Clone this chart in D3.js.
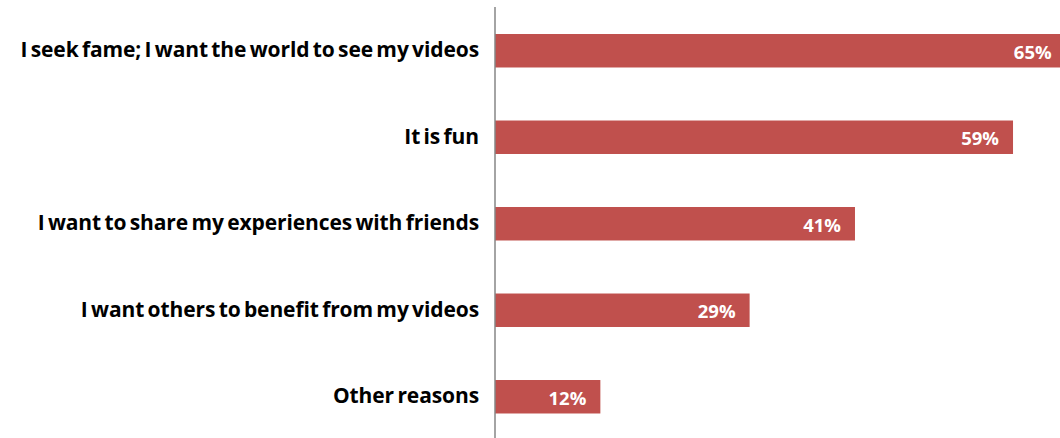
<!DOCTYPE html>
<html>
<head>
<meta charset="utf-8">
<script src="https://cdn.jsdelivr.net/npm/d3@7"></script>
<style>
  html, body { margin: 0; padding: 0; background: #fff; }
  svg { display: block; }
</style>
</head>
<body>
<svg id="chart" width="1060" height="438"></svg>
<script>
// Reasons for posting videos, share of respondents (%)
const reasons = [
  "I seek fame; I want the world to see my videos",
  "It is fun",
  "I want to share my experiences with friends",
  "I want others to benefit from my videos",
  "Other reasons"
];
const shares = [65, 59, 41, 29, 12];

const W = 1060, H = 438;
const axisX = 495;

const svg = d3.select("#chart");

const x = d3.scaleLinear()
  .domain([0, 10])
  .range([axisX, axisX + 87.8]);

const y = d3.scaleBand()
  .domain(reasons)
  .range([7.5, 440])
  .paddingInner(0.613)
  .paddingOuter(0.3065);

// bars
svg.append("g")
  .selectAll("rect")
  .data(reasons)
  .join("rect")
  .attr("x", x(0))
  .attr("y", d => y(d))
  .attr("width", (d, i) => x(shares[i]) - x(0))
  .attr("height", y.bandwidth())
  .attr("fill", "#C0504D");

// value labels inside bar ends
svg.append("g")
  .selectAll("text")
  .data(reasons)
  .join("text")
  .attr("x", (d, i) => x(shares[i]) - 14)
  .attr("y", d => y(d) + y.bandwidth() / 2)
  .attr("dy", "0.42em")
  .attr("text-anchor", "end")
  .attr("fill", "#fff")
  .attr("font-family", "'Open Sans', sans-serif")
  .attr("font-weight", "bold")
  .attr("font-size", 18.5)
  .text((d, i) => shares[i] + "%");

// category axis
const axis = d3.axisLeft(y).tickSize(0).tickPadding(16);
const gAxis = svg.append("g")
  .attr("transform", `translate(${axisX},0)`)
  .call(axis);
gAxis.select(".domain")
  .attr("d", `M0,7V${H}`)
  .attr("stroke", "#868686")
  .attr("stroke-width", 1.5);
gAxis.selectAll("text")
  .attr("font-family", "'Open Sans', sans-serif")
  .attr("font-weight", "bold")
  .attr("font-size", 21)
  .attr("word-spacing", -2)
  .attr("letter-spacing", -0.1)
  .attr("fill", "#000");
</script>
</body>
</html>
